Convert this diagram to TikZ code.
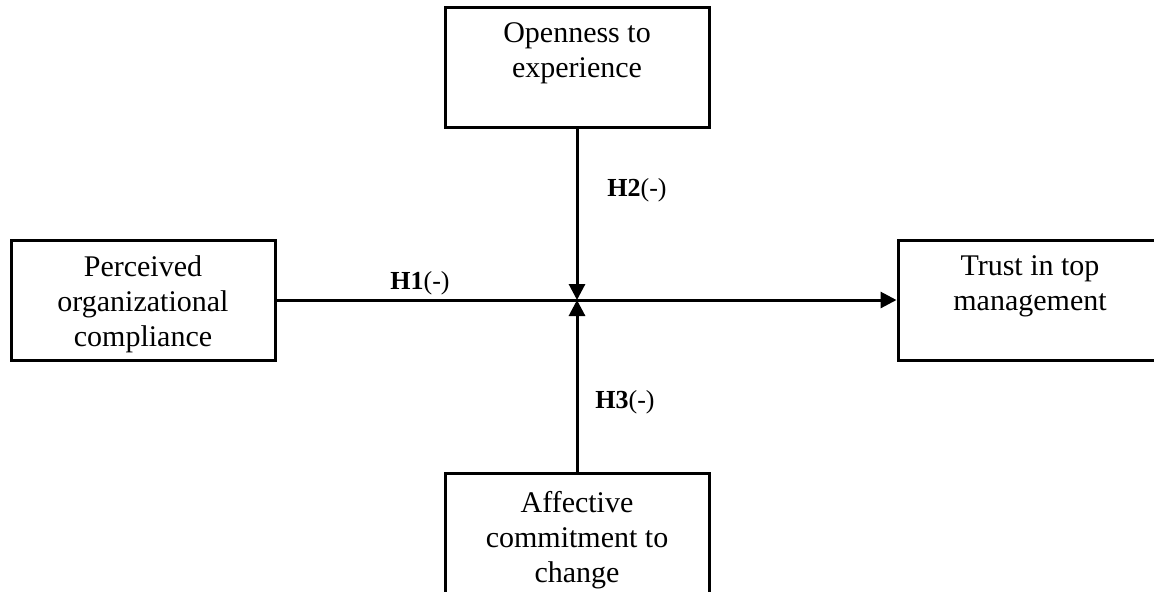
\documentclass[tikz,border=0pt]{standalone}
\usepackage{fontspec}
\setmainfont{Liberation Serif}
\usetikzlibrary{arrows.meta}
\begin{document}
\begin{tikzpicture}[x=0.5pt,y=-0.5pt,
  box/.style={draw,line width=1.5pt,minimum width=132pt,minimum height=60pt,inner sep=0pt},
  boxtext/.style={anchor=north,align=center,inner sep=0pt,font=\fontsize{15}{17.5}\selectfont},
  hlabel/.style={inner sep=0pt,font=\fontsize{13}{15}\selectfont},
  link/.style={line width=1.5pt,-{Triangle[length=8pt,width=8pt]}}]
\useasboundingbox (0,0) rectangle (1154,591);
\node[box] (open) at (577,67) {};
\node[box] (perc) at (143,300) {};
\node[box] (trust) at (1030,300) {};
\node[box] (affect) at (577,533) {};
\node[boxtext] (opent) at ([yshift=-8.5pt]open.north) {Openness to\\experience};
\node[boxtext] (perct) at ([yshift=-8.5pt]perc.north) {Perceived\\organizational\\compliance};
\node[boxtext] (trustt) at ([yshift=-8.5pt]trust.north) {Trust in top\\management};
\node[boxtext] (affectt) at ([yshift=-9.5pt]affect.north) {Affective\\commitment to\\change};
\coordinate (j) at (open.south |- perc.east);
\draw[link] (perc.east) -- (trust.west);
\draw[link] (open.south) -- (j);
\draw[link] (affect.north) -- (j);
\node[hlabel] (h1) at (420,283) {\textbf{H1}(-)};
\node[hlabel] (h2) at (637,190) {\textbf{H2}(-)};
\node[hlabel] (h3) at (625,402) {\textbf{H3}(-)};
\end{tikzpicture}
\end{document}
